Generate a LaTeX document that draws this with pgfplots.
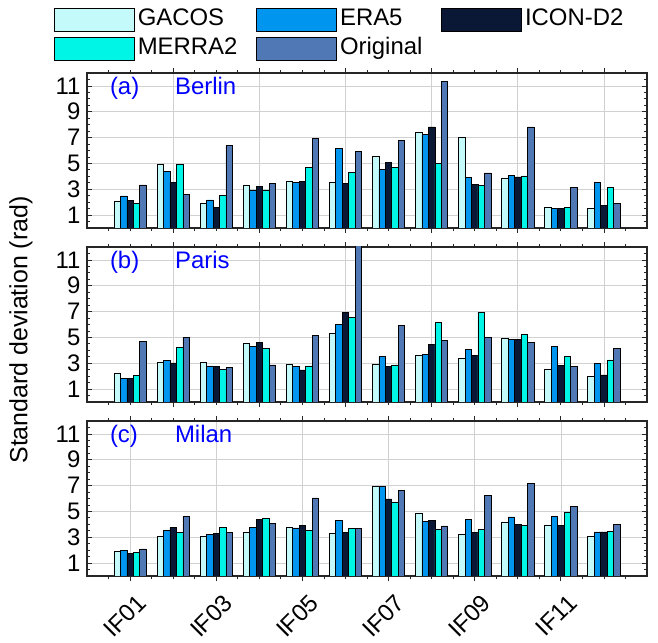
\documentclass[border=0pt]{standalone}
\usepackage{pgfplots}
\pgfplotsset{compat=1.18}
\usepackage{pgfplotstable}
\usepackage{fontspec}
\setmainfont{Liberation Sans}

\definecolor{cG}{RGB}{196,250,250}
\definecolor{cM}{RGB}{0,245,230}
\definecolor{cE}{RGB}{0,150,240}
\definecolor{cI}{RGB}{10,24,53}
\definecolor{cO}{RGB}{80,120,180}
\definecolor{axc}{RGB}{38,38,38}

\pgfplotstableread{
x G E I M O
1 2.04 2.48 2.12 1.91 3.34
2 4.95 4.38 3.52 4.90 2.58
3 1.91 2.17 1.62 2.51 6.38
4 3.34 2.95 3.21 2.95 3.44
5 3.65 3.52 3.60 4.69 6.95
6 3.55 6.19 3.45 4.32 5.94
7 5.57 4.53 5.10 4.69 6.79
8 7.42 7.23 7.83 5.03 11.34
9 7.03 3.94 3.36 3.29 4.27
10 3.88 4.09 3.96 4.04 7.83
11 1.60 1.52 1.52 1.60 3.13
12 1.49 3.55 1.78 3.16 1.91
}\berlin

\pgfplotstableread{
x G E I M O
1 2.25 1.80 1.85 2.05 4.67
2 3.05 3.20 3.03 4.23 5.03
3 3.05 2.79 2.74 2.54 2.67
4 4.51 4.33 4.59 4.13 2.87
5 2.95 2.77 2.49 2.79 5.13
6 5.28 6.00 6.92 6.54 13.00
7 2.92 3.51 2.74 2.87 5.95
8 3.62 3.67 4.46 6.15 4.74
9 3.38 4.05 3.62 6.92 5.03
10 4.95 4.85 4.85 5.26 4.62
11 2.51 4.33 2.82 3.51 2.77
12 1.97 3.00 2.10 3.26 4.15
}\paris

\pgfplotstableread{
x G E I M O
1 1.90 2.00 1.77 1.85 2.10
2 3.10 3.50 3.75 3.40 4.64
3 3.04 3.22 3.30 3.75 3.35
4 3.40 3.75 4.39 4.44 4.08
5 3.75 3.73 3.90 3.55 6.04
6 3.32 4.29 3.35 3.70 3.68
7 6.91 6.91 5.97 5.74 6.63
8 4.82 4.24 4.29 3.63 3.88
9 3.22 4.41 3.40 3.58 6.27
10 4.19 4.57 3.98 3.93 7.14
11 3.96 4.64 3.90 4.97 5.38
12 3.09 3.42 3.42 3.47 3.98
}\milan

\tikzset{plab/.style={anchor=base west, text=blue, font=\fontsize{24}{24}\selectfont, inner sep=0pt}}

\pgfplotsset{
  panel/.style={
    scale only axis, width=560bp, height=155bp,
    anchor=south west,
    xmin=0, xmax=13, ymin=0, ymax=12,
    ytick={1,3,...,11},
    minor ytick={0.5,1,...,11.5},
    minor xtick={0.5,1,...,12.5},
    xticklabel pos=lower, yticklabel pos=left,
    tick pos=both,
    tick align=inside,
    major tick length=5bp, minor tick length=3bp,
    xmajorgrids, ymajorgrids,
    major grid style={black!18, line width=0.6bp},
    axis line style={axc, line width=1.3bp},
    every tick/.style={axc, line width=0.8bp},
    /pgf/number format/assume math mode=true,
    yticklabel style={font=\fontsize{24}{24}\selectfont, xshift=-3bp},
    ybar, bar width=0.15,
    legend image code/.code={\draw[##1] (0bp,-11.5bp) rectangle (80bp,11.5bp);},
  },
  bG/.style={fill=cG, draw=black, line width=0.6bp, bar shift=-0.3},
  bE/.style={fill=cE, draw=black, line width=0.6bp, bar shift=-0.15},
  bI/.style={fill=cI, draw=black, line width=0.6bp, bar shift=0},
  bM/.style={fill=cM, draw=black, line width=0.6bp, bar shift=0.15},
  bO/.style={fill=cO, draw=black, line width=0.6bp, bar shift=0.3},
}

\begin{document}
\begin{tikzpicture}
% panel a
\begin{axis}[panel, at={(87bp,415bp)},
  xtick={2,4,...,12}, xticklabels={},
  legend columns=3,
  legend cell align=left,
  legend style={at={(-0.0589,1.4387)}, anchor=north west, draw=none, fill=none,
    inner sep=0pt, font=\fontsize{24}{24}\selectfont,
    nodes={inner sep=3bp, text height=17bp, text depth=6bp},
    /tikz/every even column/.append style={column sep=16bp}},
]
\addplot[bG] table[x=x,y=G]{\berlin};
\addlegendentry{GACOS}
\addplot[bE] table[x=x,y=E]{\berlin};
\addlegendentry{ERA5}
\addplot[bI] table[x=x,y=I]{\berlin};
\addlegendentry{ICON-D2}
\addplot[bM] table[x=x,y=M]{\berlin};
\addlegendentry{MERRA2}
\addplot[bO] table[x=x,y=O]{\berlin};
\addlegendentry{Original}
\node[plab] at (axis cs:0.53,10.3) {(a)};
\node[plab] at (axis cs:2.04,10.3) {Berlin};
\end{axis}
% panel b
\begin{axis}[panel, at={(87bp,241bp)},
  xtick={2,4,...,12}, xticklabels={},
]
\addplot[bG] table[x=x,y=G]{\paris};
\addplot[bE] table[x=x,y=E]{\paris};
\addplot[bI] table[x=x,y=I]{\paris};
\addplot[bM] table[x=x,y=M]{\paris};
\addplot[bO] table[x=x,y=O]{\paris};
\node[plab] at (axis cs:0.53,10.3) {(b)};
\node[plab] at (axis cs:2.04,10.3) {Paris};
\end{axis}
% panel c
\begin{axis}[panel, at={(87bp,67bp)},
  xtick={1,3,...,11},
  xticklabels={IF01,IF03,IF05,IF07,IF09,IF11},
  xticklabel style={font=\fontsize{24}{24}\selectfont, inner sep=0pt,
    xshift=12bp, yshift=-18bp, rotate=45, anchor=east},
]
\addplot[bG] table[x=x,y=G]{\milan};
\addplot[bE] table[x=x,y=E]{\milan};
\addplot[bI] table[x=x,y=I]{\milan};
\addplot[bM] table[x=x,y=M]{\milan};
\addplot[bO] table[x=x,y=O]{\milan};
\node[plab] at (axis cs:0.53,10.3) {(c)};
\node[plab] at (axis cs:2.04,10.3) {Milan};
\end{axis}
\node[rotate=90, font=\fontsize{25}{25}\selectfont, inner sep=0pt] at (21bp,313bp) {Standard deviation (rad)};
\pgfresetboundingbox
\path (0bp,0bp) rectangle (658bp,643bp);
\end{tikzpicture}
\end{document}
